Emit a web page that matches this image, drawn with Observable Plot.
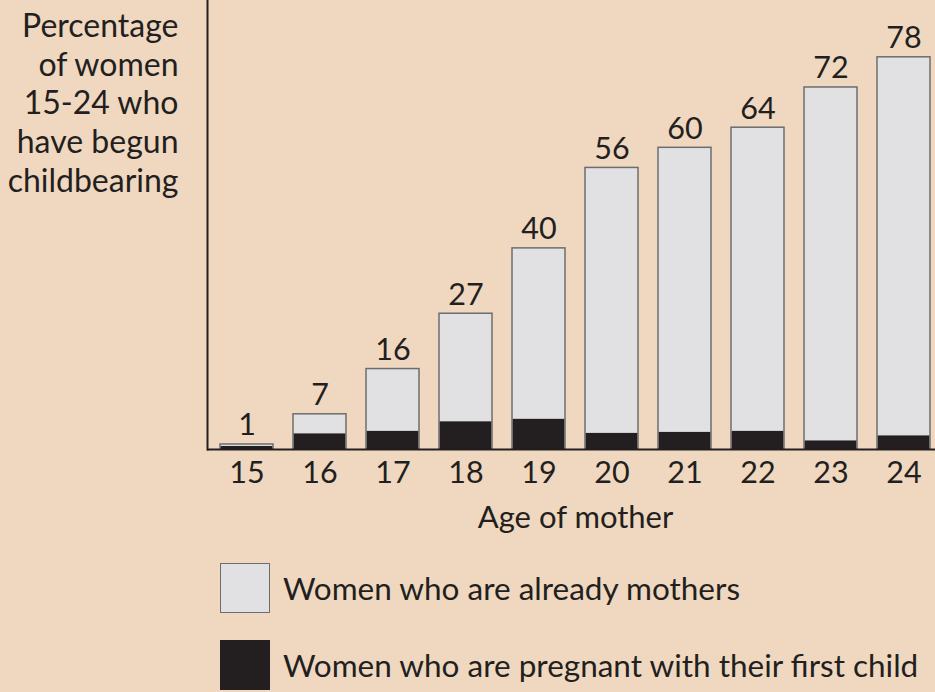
<!DOCTYPE html>
<html>
<head>
<meta charset="utf-8">
<script src="https://cdn.jsdelivr.net/npm/d3@7"></script>
<script src="https://cdn.jsdelivr.net/npm/@observablehq/plot@0.6"></script>
<style>
  html, body { margin: 0; padding: 0; background: #efd8bf; }
  #wrap { position: relative; width: 935px; height: 692px; background: #efd8bf; font-family: Lato, "Open Sans", sans-serif; color: #231f20; }
  #legend { position: absolute; left: 220px; top: 563px; }
  .row { display: flex; align-items: center; height: 50px; margin-bottom: 27px; }
  .sw { width: 50px; height: 50px; box-sizing: border-box; margin-right: 13px; }
  .lab { font-size: 31.5px; white-space: nowrap; }
</style>
</head>
<body>
<div id="wrap"></div>
<script>
const ages = ["15","16","17","18","19","20","21","22","23","24"];
const totals = [1, 7, 16, 27, 40, 56, 60, 64, 72, 78];
const pregnant = [0.6, 3.1, 3.6, 5.5, 6.0, 3.2, 3.4, 3.6, 1.7, 2.7];
const yTitle = ["Percentage", "of women", "15-24 who", "have begun", "childbearing"];
const xTitle = "Age of mother";
const legendLabels = ["Women who are already mothers", "Women who are pregnant with their first child"];

const ink = "#231f20";
const light = "#e1e1e3";
const data = ages.map((a, i) => ({age: a, total: totals[i], pregnant: pregnant[i]}));

const chart = Plot.plot({
  width: 935,
  height: 549,
  marginTop: 0,
  marginLeft: 207,
  marginRight: 0,
  marginBottom: 100,
  style: {background: "transparent", fontFamily: "Lato, 'Open Sans', sans-serif", fontSize: "30px", color: ink},
  x: {type: "band", domain: ages, range: [207, 943], paddingInner: 0.28, paddingOuter: 0.15},
  y: {domain: [0, 89.3], axis: null},
  marks: [
    Plot.barY(data, {x: "age", y: "total", fill: light, stroke: "#6d6d6d", strokeWidth: 1.5}),
    Plot.barY(data, {x: "age", y: "pregnant", fill: ink, insetLeft: 0.75, insetRight: 0.75}),
    Plot.text(data, {x: "age", y: "total", text: d => String(d.total), lineAnchor: "bottom", dy: -9, fill: ink, fontSize: 30.5}),
    Plot.axisX({tickSize: 0, tickPadding: 12, label: null, fontSize: 30.5, fill: ink}),
    Plot.ruleY([0], {stroke: ink, strokeWidth: 2}),
    Plot.frame({anchor: "left", stroke: ink, strokeWidth: 2}),
    Plot.text([yTitle.join("\n")], {frameAnchor: "top-left", text: d => d, dx: -29, dy: 9, textAnchor: "end", lineAnchor: "top", lineHeight: 1.21, fontSize: 32, fill: ink}),
    Plot.text([xTitle], {frameAnchor: "bottom", text: d => d, dx: 4, dy: 69, lineAnchor: "middle", fontSize: 31, fill: ink})
  ]
});

const wrap = document.getElementById("wrap");
wrap.appendChild(chart);

const legend = document.createElement("div");
legend.id = "legend";
const swatches = [{fill: light, border: "1.5px solid #6d6d6d"}, {fill: ink, border: "none"}];
legendLabels.forEach((t, i) => {
  const row = document.createElement("div");
  row.className = "row";
  const sw = document.createElement("div");
  sw.className = "sw";
  sw.style.background = swatches[i].fill;
  sw.style.border = swatches[i].border;
  const lab = document.createElement("span");
  lab.className = "lab";
  lab.textContent = t;
  row.appendChild(sw);
  row.appendChild(lab);
  legend.appendChild(row);
});
wrap.appendChild(legend);
</script>
</body>
</html>
